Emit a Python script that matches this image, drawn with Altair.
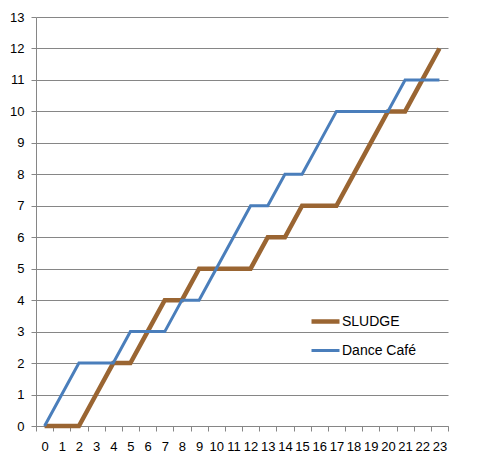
import altair as alt
import pandas as pd

hours = list(range(24))
sludge = [0, 0, 0, 1, 2, 2, 3, 4, 4, 5, 5, 5, 5, 6, 6, 7, 7, 7, 8, 9, 10, 10, 11, 12]
dance_cafe = [0, 1, 2, 2, 2, 3, 3, 3, 4, 4, 5, 6, 7, 7, 8, 8, 9, 10, 10, 10, 10, 11, 11, 11]
series_names = ["SLUDGE", "Dance Café"]
y_ticks = list(range(14))

rows = []
for name, vals in zip(series_names, [sludge, dance_cafe]):
    for h, v in zip(hours, vals):
        rows.append({"x": h, "y": v, "series": name})
df = pd.DataFrame(rows)

FONT = "Liberation Sans"

legend_opts = dict(
    title=None,
    orient="none",
    legendX=273,
    legendY=288,
    symbolType="stroke",
    symbolSize=784,
    labelOffset=0,
    rowPadding=4,
    labelFont=FONT,
    labelFontSize=14,
    labelColor="#000000",
)

chart = (
    alt.Chart(df)
    .mark_line(strokeJoin="miter", strokeCap="butt")
    .encode(
        x=alt.X(
            "x:O",
            sort=hours,
            scale=alt.Scale(type="band", paddingInner=0, paddingOuter=0),
            axis=alt.Axis(
                title=None,
                labelAngle=0,
                tickBand="extent",
                tickSize=5,
                labelPadding=9,
                grid=False,
                domainColor="#868686",
                tickColor="#868686",
                labelColor="#000000",
                labelFont=FONT,
                labelFontSize=13,
            ),
        ),
        y=alt.Y(
            "y:Q",
            scale=alt.Scale(domain=[0, 13], nice=False),
            axis=alt.Axis(
                title=None,
                values=y_ticks,
                tickSize=5,
                labelPadding=7,
                grid=True,
                gridColor="#868686",
                gridWidth=1,
                domainColor="#868686",
                tickColor="#868686",
                labelColor="#000000",
                labelFont=FONT,
                labelFontSize=13,
            ),
        ),
        color=alt.Color(
            "series:N",
            sort=series_names,
            scale=alt.Scale(domain=series_names, range=["#9A6532", "#4A7EBB"]),
            legend=alt.Legend(**legend_opts),
        ),
        strokeWidth=alt.StrokeWidth(
            "series:N",
            sort=series_names,
            scale=alt.Scale(domain=series_names, range=[4.5, 3]),
            legend=alt.Legend(**legend_opts),
        ),
        order=alt.Order("x:Q"),
    )
    .properties(
        width=412,
        height=409,
        autosize=alt.AutoSizeParams(type="none"),
        padding={"left": 28, "top": 9, "right": 35, "bottom": 30},
    )
    .configure_view(stroke=None)
)

chart.save("out.html", embed_options={"renderer": "svg", "actions": False})
